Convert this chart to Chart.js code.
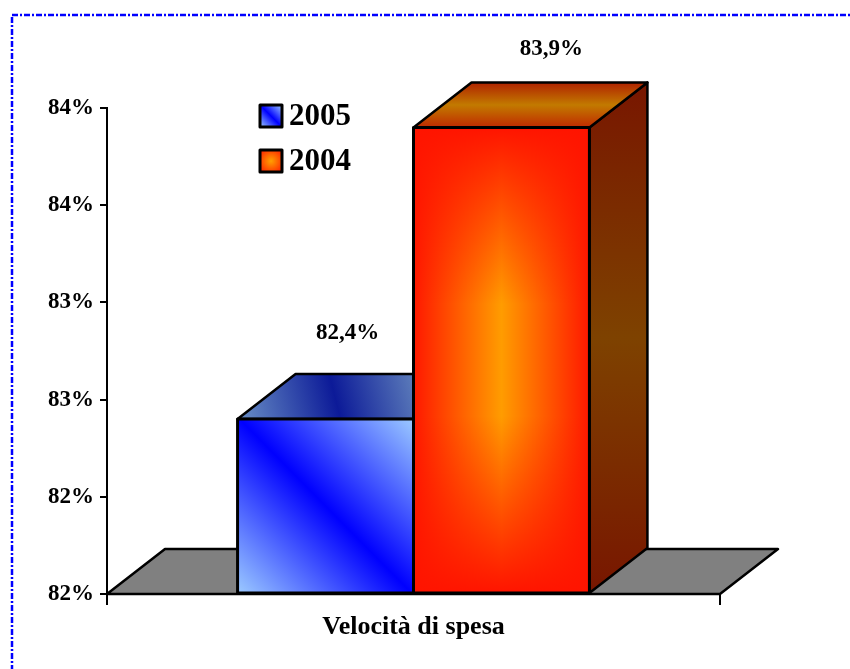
<!DOCTYPE html>
<html>
<head>
<meta charset="utf-8">
<title>Velocità di spesa</title>
<script src="https://cdn.jsdelivr.net/npm/chart.js@4.4.1/dist/chart.umd.min.js"></script>
<style>
  html, body { margin: 0; padding: 0; background: #fff; }
  canvas { display: block; }
</style>
</head>
<body>
<canvas id="chart" width="850" height="669"></canvas>
<script>
// data
const categories = ["Velocità di spesa"]
const seriesNames = ["2005", "2004"]
const values2005 = [82.4]
const values2004 = [83.9]
const yMin = 81.5
const yMax = 84
const yStep = 0.5

// 3d look
const DEPTH_X = 58
const DEPTH_Y = -45
const LABEL_SHIFT = [[22, -86], [50, -78]]
const SERIF = "'Liberation Serif', 'Times New Roman', serif"

function face(ctx, pts, fill, lw) {
  ctx.beginPath()
  ctx.moveTo(pts[0][0], pts[0][1])
  for (let i = 1; i < pts.length; i++) ctx.lineTo(pts[i][0], pts[i][1])
  ctx.closePath()
  if (fill) {
    ctx.fillStyle = fill
    ctx.fill()
  }
  ctx.lineWidth = lw || 2.5
  ctx.strokeStyle = "#000"
  ctx.lineJoin = "round"
  ctx.stroke()
}

function linear(ctx, x0, y0, x1, y1, stops) {
  const g = ctx.createLinearGradient(x0, y0, x1, y1)
  stops.forEach(([p, c]) => g.addColorStop(p, c))
  return g
}

function barBox(el) {
  return { L: el.x - el.width / 2, R: el.x + el.width / 2, T: el.y, B: el.base }
}

const threeD = {
  id: "threeD",
  beforeDraw(chart) {
    // dash-dot frame
    const ctx = chart.ctx
    ctx.save()
    ctx.strokeStyle = "#0000ff"
    ctx.lineWidth = 2.5
    ctx.setLineDash([6, 2, 2, 2])
    ctx.strokeRect(12, 15, 900, 700)
    ctx.restore()
  },
  beforeDatasetsDraw(chart) {
    const { ctx, chartArea: a } = chart
    ctx.save()
    // floor
    face(ctx, [
      [a.left, a.bottom], [a.right, a.bottom],
      [a.right + DEPTH_X, a.bottom + DEPTH_Y], [a.left + DEPTH_X, a.bottom + DEPTH_Y]
    ], "#808080")

    chart.data.datasets.forEach((ds, i) => {
      chart.getDatasetMeta(i).data.forEach(el => {
        const { L, R, T, B } = barBox(el)
        let topFill, sideFill
        if (i === 0) {
          topFill = linear(ctx, L, T, R, T + DEPTH_Y, [[0, "#6a90c6"], [0.55, "#0c1a98"], [1, "#5c7cba"]])
          sideFill = "#0a1a80"
        } else {
          topFill = linear(ctx, 0, T, 0, T + DEPTH_Y, [[0, "#c02a00"], [0.5, "#c27a00"], [1, "#b02200"]])
          sideFill = linear(ctx, 0, T + DEPTH_Y, 0, B, [[0, "#781600"], [0.5, "#7e4200"], [1, "#781600"]])
        }
        face(ctx, [[R, T], [R + DEPTH_X, T + DEPTH_Y], [R + DEPTH_X, B + DEPTH_Y], [R, B]], sideFill)
        face(ctx, [[L, T], [R, T], [R + DEPTH_X, T + DEPTH_Y], [L + DEPTH_X, T + DEPTH_Y]], topFill)
      })
    })
    ctx.restore()
  },
  afterDatasetsDraw(chart) {
    const ctx = chart.ctx
    ctx.save()
    chart.data.datasets.forEach((ds, i) => {
      chart.getDatasetMeta(i).data.forEach((el, j) => {
        const { L, R, T, B } = barBox(el)
        if (i === 0) {
          ctx.fillStyle = linear(ctx, L, B, R, T, [[0, "#9ccaff"], [0.5, "#0000ff"], [1, "#9ccaff"]])
          ctx.fillRect(L, T, R - L, B - T)
        } else {
          ctx.fillStyle = linear(ctx, L, 0, R, 0, [[0, "#ff1800"], [0.5, "#ff9c00"], [1, "#ff1800"]])
          ctx.fillRect(L, T, R - L, B - T)
          ctx.fillStyle = linear(ctx, 0, T, 0, B, [
            [0, "rgba(255,20,0,1)"], [0.38, "rgba(255,20,0,0)"],
            [0.62, "rgba(255,20,0,0)"], [1, "rgba(255,20,0,1)"]
          ])
          ctx.fillRect(L, T, R - L, B - T)
        }
        face(ctx, [[L, T], [R, T], [R, B], [L, B]], null, 3)

        // value label
        const v = ds.data[j]
        ctx.fillStyle = "#000"
        ctx.font = "bold 23px " + SERIF
        ctx.textAlign = "center"
        ctx.textBaseline = "middle"
        ctx.fillText(v.toFixed(1).replace(".", ",") + "%", el.x + LABEL_SHIFT[i][0], T + LABEL_SHIFT[i][1])
      })
    })

    // legend
    const a = chart.chartArea
    chart.data.datasets.forEach((ds, i) => {
      const x = a.left + 153
      const y = a.top - 3 + i * 45
      const s = 22
      let fill
      if (i === 0) {
        fill = linear(ctx, x, y + s, x + s, y, [[0, "#9ccaff"], [0.5, "#0000ff"], [1, "#9ccaff"]])
      } else {
        fill = ctx.createRadialGradient(x + s / 2, y + s / 2, 0, x + s / 2, y + s / 2, s * 0.7)
        fill.addColorStop(0, "#ffa000")
        fill.addColorStop(1, "#ff1800")
      }
      face(ctx, [[x, y], [x + s, y], [x + s, y + s], [x, y + s]], fill, 3)
      ctx.fillStyle = "#000"
      ctx.font = "bold 31px " + SERIF
      ctx.textAlign = "left"
      ctx.textBaseline = "middle"
      ctx.fillText(ds.label, x + s + 7, y + s / 2 + 1)
    })
    ctx.restore()
  }
}

new Chart(document.getElementById("chart"), {
  type: "bar",
  data: {
    labels: categories,
    datasets: [
      { label: seriesNames[0], data: values2005, base: yMin, backgroundColor: "#3355ff", borderWidth: 0 },
      { label: seriesNames[1], data: values2004, base: yMin, backgroundColor: "#ff3300", borderWidth: 0 }
    ]
  },
  options: {
    responsive: false,
    animation: false,
    categoryPercentage: 0.574,
    barPercentage: 1,
    layout: { padding: { top: 108, right: 130, left: 0, bottom: 0 } },
    plugins: {
      legend: { display: false },
      tooltip: { enabled: false }
    },
    scales: {
      x: {
        afterFit: (scale) => { scale.height = 75 },
        grid: { offset: true, drawOnChartArea: false, drawTicks: true, tickLength: 11, color: "#000", lineWidth: 2 },
        border: { display: true, color: "#000", width: 2 },
        ticks: { color: "#000", padding: 7, font: { family: SERIF, size: 26, weight: "bold" } }
      },
      y: {
        min: yMin,
        max: yMax,
        afterFit: (scale) => { scale.width = 107 },
        grid: { drawOnChartArea: false, drawTicks: true, tickLength: 7, color: "#000", lineWidth: 2 },
        border: { display: true, color: "#000", width: 2 },
        ticks: {
          stepSize: yStep,
          color: "#000",
          padding: 6,
          font: { family: SERIF, size: 23, weight: "bold" },
          callback: (v) => Math.round(v) + "%"
        }
      }
    }
  },
  plugins: [threeD]
})
</script>
</body>
</html>
